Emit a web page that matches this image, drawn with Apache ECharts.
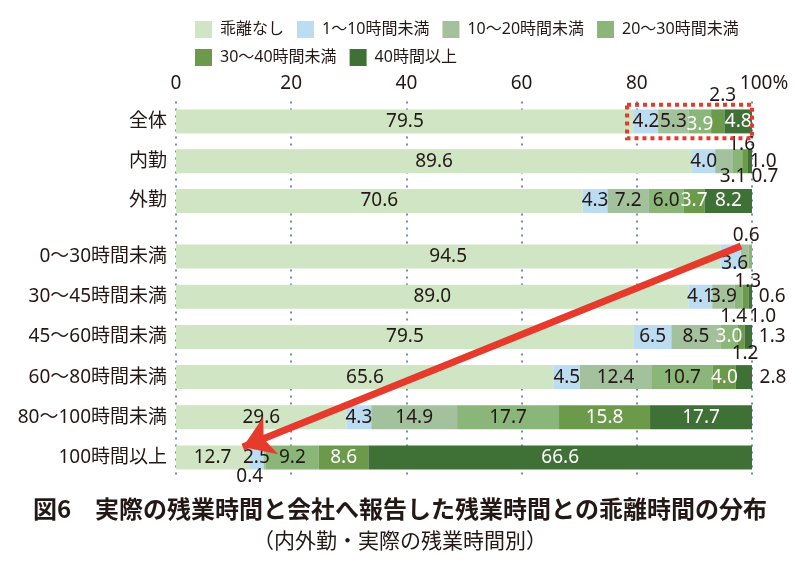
<!DOCTYPE html>
<html>
<head>
<meta charset="utf-8">
<script src="https://cdn.jsdelivr.net/npm/echarts@6/dist/echarts.min.js"></script>
<style>html,body{margin:0;padding:0;background:#fff;}#c{width:800px;height:562px;}</style>
</head>
<body>
<div id="c"></div>
<script>
// ---- data ----
const categoriesTop = ['全体', '内勤', '外勤'];
const categoriesBottom = ['0〜30時間未満', '30〜45時間未満', '45〜60時間未満', '60〜80時間未満', '80〜100時間未満', '100時間以上'];
const seriesNames = ['乖離なし', '1〜10時間未満', '10〜20時間未満', '20〜30時間未満', '30〜40時間未満', '40時間以上'];
const xTickValues = [0, 20, 40, 60, 80, 100];

const nashiTop   = [79.5, 89.6, 70.6];
const h1to10Top  = [4.2, 4.0, 4.3];
const h10to20Top = [5.3, 3.1, 7.2];
const h20to30Top = [3.9, 1.6, 6.0];
const h30to40Top = [2.3, 1.0, 3.7];
const h40plusTop = [4.8, 0.7, 8.2];

const nashiBottom   = [94.5, 89.0, 79.5, 65.6, 29.6, 12.7];
const h1to10Bottom  = [3.6, 4.1, 6.5, 4.5, 4.3, 2.5];
const h10to20Bottom = [1.3, 3.9, 8.5, 12.4, 14.9, 0.4];
const h20to30Bottom = [0.6, 1.4, 3.0, 10.7, 17.7, 9.2];
const h30to40Bottom = [0, 1.0, 1.2, 4.0, 15.8, 8.6];
const h40plusBottom = [0, 0.6, 1.3, 2.8, 17.7, 66.6];

const titleText = '図6　実際の残業時間と会社へ報告した残業時間との乖離時間の分布';
const subtitleText = '（内外勤・実際の残業時間別）';

// ---- styles ----
const FONT = "'Noto Sans', 'Noto Sans CJK JP', sans-serif";
const CJK = "'Noto Sans CJK JP', sans-serif";
const DARK = '#231815';
const WHITE = '#ffffff';
const colors = ['#cfe5c3', '#bcdcf1', '#a3c19c', '#8bb679', '#6b9a4b', '#3f7136'];
const defaultLabelColors = [DARK, DARK, DARK, DARK, WHITE, WHITE];
const RED = '#e63b2c';

// per-label placement tweaks: grid-series-row
const labelTweaks = {
  't-3-0': { color: WHITE, dy: 3 },
  't-4-0': { dx: 5, dy: -26, color: DARK },
  't-2-1': { dx: 9, dy: 15, color: DARK },
  't-3-1': { dx: 4, dy: -17, color: DARK },
  't-4-1': { dx: 18, dy: 0, color: DARK },
  't-5-1': { dx: 15, dy: 15, color: DARK },
  'b-1-0': { dx: 4, dy: 7, color: DARK },
  'b-2-0': { dx: 3, dy: 25, color: DARK },
  'b-3-0': { dx: -4, dy: -21, color: DARK },
  'b-3-1': { dx: -5, dy: 20, color: DARK },
  'b-4-1': { dx: 17, dy: 20, color: DARK },
  'b-5-1': { dx: 22, dy: 0, color: DARK },
  'b-3-2': { color: WHITE },
  'b-4-2': { dx: 4, dy: 17, color: DARK },
  'b-5-2': { dx: 24, dy: 0, color: DARK },
  'b-5-3': { dx: 29, dy: 0, color: DARK },
  'b-2-5': { dx: -15, dy: 19, color: DARK }
};

function buildData(values, grid, s) {
  return values.map(function (v, i) {
    const t = labelTweaks[grid + '-' + s + '-' + i];
    if (!t) return v;
    const lab = { offset: [t.dx || 0, t.dy || 0] };
    if (t.color) lab.color = t.color;
    return { value: v, label: lab };
  });
}

const topSets = [nashiTop, h1to10Top, h10to20Top, h20to30Top, h30to40Top, h40plusTop];
const bottomSets = [nashiBottom, h1to10Bottom, h10to20Bottom, h20to30Bottom, h30to40Bottom, h40plusBottom];

function barSeries(sets, grid, xIdx, yIdx, stack) {
  return sets.map(function (vals, s) {
    return {
      name: seriesNames[s],
      type: 'bar',
      stack: stack,
      xAxisIndex: xIdx,
      yAxisIndex: yIdx,
      barWidth: 24,
      itemStyle: { color: colors[s] },
      label: {
        show: true,
        position: 'inside',
        fontFamily: FONT,
        fontSize: 19,
        color: defaultLabelColors[s],
        formatter: function (p) { return p.value === 0 ? '' : Number(p.value).toFixed(1); }
      },
      data: buildData(vals, grid, s)
    };
  });
}

const chart = echarts.init(document.getElementById('c'), null, { renderer: 'canvas' });

const legendCommon = {
  left: 190,
  itemWidth: 17, itemHeight: 17, itemGap: 13,
  icon: 'rect',
  textStyle: { fontFamily: FONT, fontSize: 16, color: DARK, padding: [0, 0, 0, 3] }
};

const gridLeft = 176, gridWidth = 576;
const option = {
  animation: false,
  backgroundColor: '#ffffff',
  textStyle: { fontFamily: FONT },
  title: [
    { text: titleText, left: 'center', top: 491,
      textStyle: { fontFamily: CJK, fontSize: 24, fontWeight: 'bold', color: DARK, lineHeight: 26 } },
    { text: subtitleText, left: 'center', top: 524,
      textStyle: { fontFamily: CJK, fontSize: 21, fontWeight: 'normal', color: DARK, lineHeight: 23 } }
  ],
  legend: [
    Object.assign({}, legendCommon, { data: seriesNames.slice(0, 4), top: 16 }),
    Object.assign({}, legendCommon, { data: seriesNames.slice(4), top: 44 })
  ],
  grid: [
    { left: gridLeft, width: gridWidth, top: 101.5, height: 119.5 },
    { left: gridLeft, width: gridWidth, top: 236.4, height: 241.2 },
    { left: gridLeft, width: gridWidth, top: 101.5, height: 374 }
  ],
  xAxis: [
    { gridIndex: 0, type: 'value', min: 0, max: 100, show: false },
    { gridIndex: 1, type: 'value', min: 0, max: 100, show: false },
    { gridIndex: 2, type: 'value', min: xTickValues[0], max: xTickValues[xTickValues.length - 1],
      interval: xTickValues[1] - xTickValues[0], position: 'top',
      axisLine: { show: false }, axisTick: { show: false },
      axisLabel: {
        margin: 8, fontSize: 19, color: DARK, fontFamily: FONT,
        formatter: function (v) { return v === 100 ? '{pad|}100%' : String(v); },
        rich: { pad: { width: 24 } }
      },
      splitLine: { show: true, lineStyle: { color: '#4d6497', width: 1.5, type: [2, 5] } }
    }
  ],
  yAxis: [
    { gridIndex: 0, type: 'category', inverse: true, data: categoriesTop,
      axisLine: { show: false }, axisTick: { show: false }, splitLine: { show: false },
      axisLabel: { margin: 9, fontSize: 19, color: DARK, fontFamily: FONT } },
    { gridIndex: 0, type: 'value', min: -0.5, max: 2.5, inverse: true, show: false },
    { gridIndex: 1, type: 'category', inverse: true, data: categoriesBottom,
      axisLine: { show: false }, axisTick: { show: false }, splitLine: { show: false },
      axisLabel: { margin: 9, fontSize: 19, color: DARK, fontFamily: FONT } },
    { gridIndex: 1, type: 'value', min: -0.5, max: 5.5, inverse: true, show: false },
    { gridIndex: 2, type: 'value', min: 0, max: 1, show: false }
  ],
  series: [].concat(
    barSeries(topSets, 't', 0, 0, 'top'),
    barSeries(bottomSets, 'b', 1, 2, 'bottom'),
    [
      { type: 'line', xAxisIndex: 0, yAxisIndex: 1, data: [], silent: true,
        markArea: { silent: true, z: 6,
          itemStyle: { color: 'rgba(0,0,0,0)', borderColor: RED, borderWidth: 4, borderType: 'dotted' },
          data: [[{ coord: [78.3, -0.42] }, { coord: [100, 0.42] }]] } },
      { type: 'line', xAxisIndex: 1, yAxisIndex: 3, data: [], silent: true,
        markLine: { silent: true, z: 6, symbol: ['none', 'arrow'], symbolSize: 30,
          label: { show: false },
          lineStyle: { color: RED, width: 7, type: 'solid', opacity: 1 },
          data: [[{ coord: [98.1, -0.26] }, { coord: [11.6, 4.74] }]] } }
    ]
  )
};
chart.setOption(option);
</script>
</body>
</html>
